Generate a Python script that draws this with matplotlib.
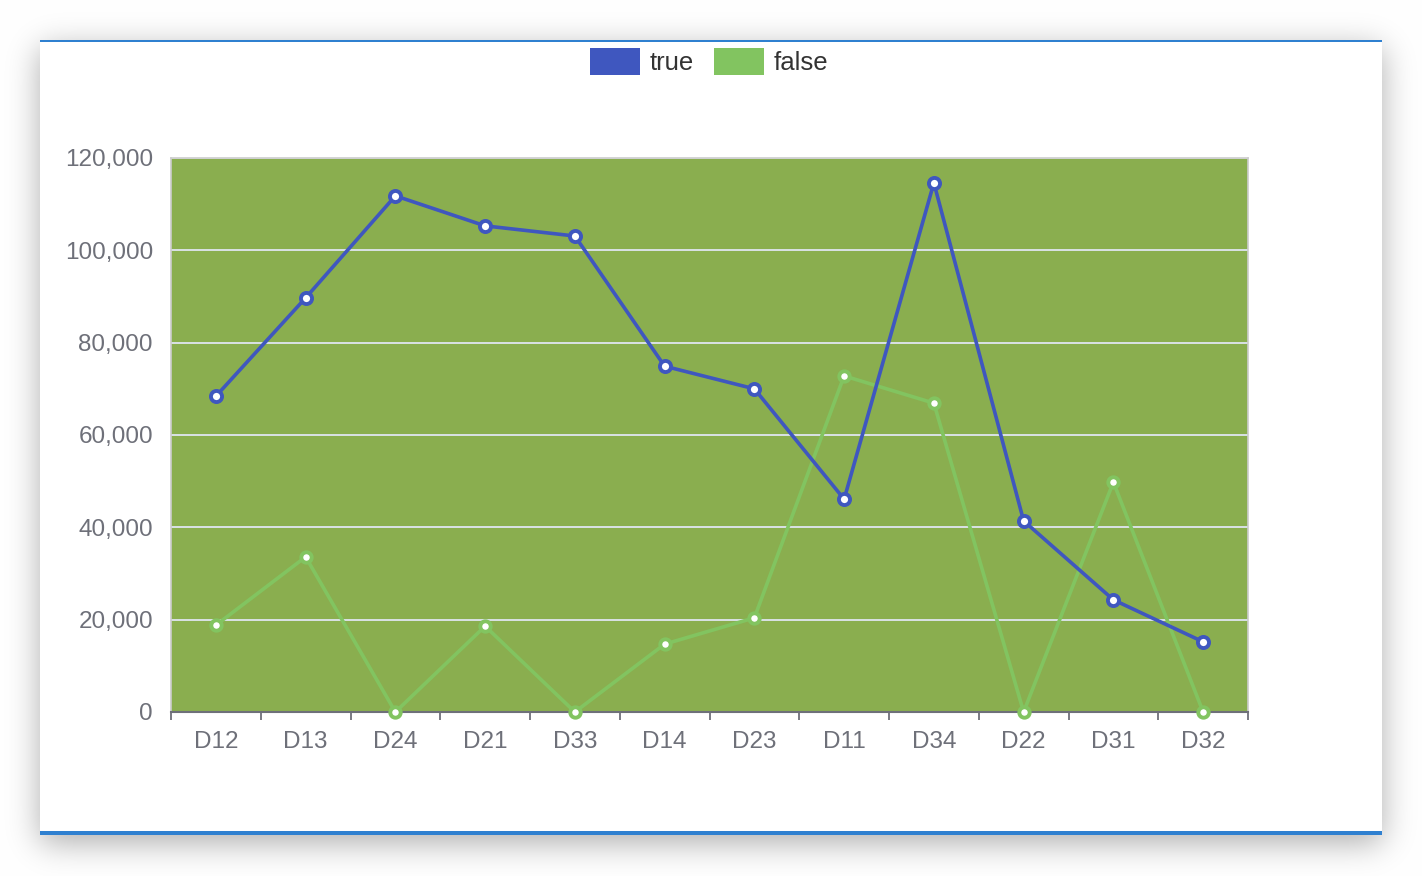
import math
import numpy as np
import matplotlib
matplotlib.use("Agg")
import matplotlib.pyplot as plt
from matplotlib.patches import Rectangle
from matplotlib.ticker import FuncFormatter, FixedLocator

plt.rcParams['font.family'] = ['Liberation Sans', 'DejaVu Sans']

categories = ["D12", "D13", "D24", "D21", "D33", "D14", "D23", "D11", "D34", "D22", "D31", "D32"]
true_vals = [68400, 89700, 111800, 105300, 103100, 74900, 70000, 46100, 114600, 41400, 24300, 15200]
false_vals = [18800, 33600, 0, 18600, 0, 14700, 20400, 72800, 66900, 0, 49800, 0]
series_names = ["true", "false"]
y_ticks = [0, 20000, 40000, 60000, 80000, 100000, 120000]

W, H = 1422, 876
fig = plt.figure(figsize=(W / 100, H / 100), dpi=100)
fig.patch.set_facecolor("white")

def fx(x): return x / W
def fy(y): return 1 - y / H

# card shadow (gaussian blurred rectangle)
card_l, card_t, card_r, card_b = 40, 40, 1382, 835
sig = 16.0
off_y = 8.0
erf = np.vectorize(math.erf)
xs = np.arange(W) + 0.5
ys = np.arange(H) + 0.5
px = 0.5 * (erf((xs - card_l) / (sig * math.sqrt(2))) - erf((xs - card_r) / (sig * math.sqrt(2))))
py = 0.5 * (erf((ys - (card_t + off_y)) / (sig * math.sqrt(2))) - erf((ys - (card_b + off_y)) / (sig * math.sqrt(2))))
alpha = np.outer(py, px) * 0.32
img = np.ones((H, W, 3)) * (1 - alpha[..., None])
fig.figimage(img, xo=0, yo=0, origin="upper", zorder=0)

card = Rectangle((fx(card_l), fy(card_b)), fx(card_r - card_l), (card_b - card_t) / H,
                 transform=fig.transFigure, facecolor="white", edgecolor="none", zorder=1)
fig.patches.append(card)
top_line = Rectangle((fx(card_l), fy(42)), fx(card_r - card_l), 2 / H,
                     transform=fig.transFigure, facecolor="#2f80d0", edgecolor="none", zorder=2)
bot_line = Rectangle((fx(card_l), fy(835)), fx(card_r - card_l), 4 / H,
                     transform=fig.transFigure, facecolor="#2f80d0", edgecolor="none", zorder=2)
fig.patches.extend([top_line, bot_line])

ax = fig.add_axes([fx(171), fy(712), fx(1248 - 171), (712 - 158) / H])
ax.set_zorder(3)
ax.set_facecolor("#8aae4f")

x = list(range(len(categories)))
blue = "#3f57bf"
green = "#82c460"
ax.plot(x, true_vals, color=blue, lw=2.6, marker="o", ms=8, mfc="white", mec=blue, mew=2.8, zorder=5, clip_on=False)
ax.plot(x, false_vals, color=green, lw=2.6, marker="o", ms=7.5, mfc="white", mec=green, mew=2.8, zorder=4, clip_on=False)

ax.set_xlim(-0.5, len(categories) - 0.5)
ax.set_ylim(0, 120000)
ax.yaxis.set_major_locator(FixedLocator(y_ticks))
ax.yaxis.set_major_formatter(FuncFormatter(lambda v, p: f"{int(v):,}"))
ax.grid(axis="y", color="#e0e6f1", lw=1.3, zorder=1)
ax.set_axisbelow(True)

ax.set_xticks([i - 0.5 for i in range(len(categories) + 1)])
ax.set_xticklabels([])
ax.set_xticks(x, minor=True)
ax.set_xticklabels(categories, minor=True)
ax.tick_params(axis="x", which="major", length=6, width=1.3, color="#6e7079", direction="out")
ax.tick_params(axis="x", which="minor", length=0, pad=14, labelsize=17.5, labelcolor="#6e7079")
ax.tick_params(axis="y", length=0, pad=13, labelsize=17.5, labelcolor="#6e7079")

for s in ["top", "left", "right"]:
    ax.spines[s].set_color("#cccccc")
    ax.spines[s].set_linewidth(1.2)
ax.spines["bottom"].set_color("#6e7079")
ax.spines["bottom"].set_linewidth(1.5)

# legend
leg_items = [(590, series_names[0], blue), (714, series_names[1], green)]
for lx, name, col in leg_items:
    fig.patches.append(Rectangle((fx(lx), fy(75)), fx(50), 27 / H, transform=fig.transFigure,
                                 facecolor=col, edgecolor="none", zorder=4))
    fig.text(fx(lx + 60), fy(63), name, fontsize=18.5, color="#333333", va="center", ha="left", zorder=5)

fig.savefig("out.png", dpi=100, facecolor="white")
